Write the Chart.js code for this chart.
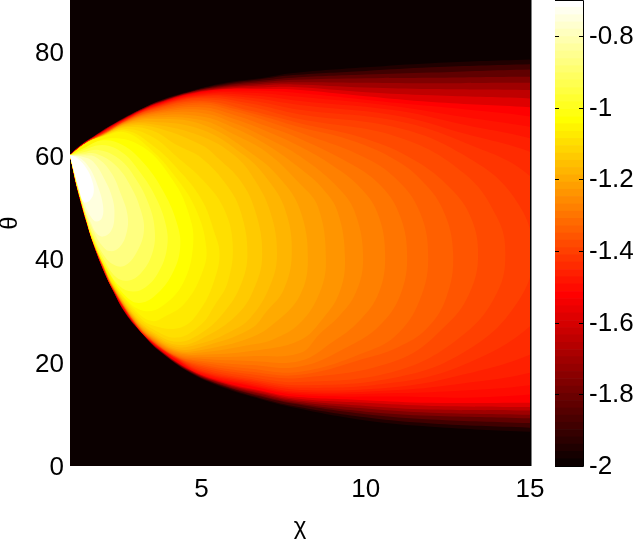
<!DOCTYPE html>
<html>
<head>
<meta charset="utf-8">
<style>
  html, body { margin: 0; padding: 0; background: #fff; }
  #wrap { position: relative; width: 635px; height: 539px; overflow: hidden; }
  #mapChart { position: absolute; left: 0; top: 0; }
  #barChart { position: absolute; left: 545px; top: 0; }
</style>
<script src="https://cdn.jsdelivr.net/npm/chart.js@4/dist/chart.umd.min.js"></script>
</head>
<body>
<div id="wrap">
  <canvas id="mapChart" width="635" height="539"></canvas>
  <canvas id="barChart" width="90" height="539"></canvas>
</div>
<script>
const chiTicks = [5, 10, 15];
const thetaTicks = [0, 20, 40, 60, 80];
const colorbarTicks = [-2, -1.8, -1.6, -1.4, -1.2, -1, -0.8];

// edges of the 64 colour steps on the colorbar
const colorbarEdges = [
  -2.000, -1.980, -1.959, -1.939, -1.919, -1.898, -1.878, -1.858, -1.838, -1.817, -1.797, -1.777, -1.756,
  -1.736, -1.716, -1.695, -1.675, -1.655, -1.634, -1.614, -1.594, -1.573, -1.553, -1.533, -1.513, -1.492,
  -1.472, -1.452, -1.431, -1.411, -1.391, -1.370, -1.350, -1.330, -1.309, -1.289, -1.269, -1.248, -1.228,
  -1.208, -1.188, -1.167, -1.147, -1.127, -1.106, -1.086, -1.066, -1.045, -1.025, -1.005, -0.984, -0.964,
  -0.944, -0.923, -0.903, -0.883, -0.863, -0.842, -0.822, -0.802, -0.781, -0.761, -0.741, -0.720, -0.700
];

// outer contours, theta read at these chi columns
const rimChi = [1, 1.2, 1.5, 1.7, 2, 2.3, 2.7, 3.2, 3.7, 4.7, 5.8, 6.8, 7.8, 10, 12, 15, 16];
const rimTop03 = [60, 61.3, 62.8, 63.6, 64.9, 66, 67.5, 69.1, 70.5, 72.5, 74.1, 74.9, 75.9, 77, 77.8, 78.5, 78.6];
const rimBot03 = [60, 54, 47.1, 43, 38, 34, 29.3, 25.5, 22.3, 17.8, 14.8, 12.9, 11.3, 8.8, 7.6, 6.6, 6.4];
const rimTop06 = [60, 61.3, 62.8, 63.6, 64.8, 66, 67.4, 69, 70.5, 72.4, 73.9, 74.7, 75.5, 76.3, 77, 77.6, 77.6];
const rimBot06 = [60, 54, 47.1, 43, 38, 34, 29.4, 25.5, 22.3, 17.9, 15, 13.1, 11.6, 9.4, 8.2, 7.4, 7.2];
const rimTop09 = [60, 61.3, 62.7, 63.5, 64.8, 65.9, 67.4, 69, 70.4, 72.3, 73.7, 74.4, 75, 75.6, 76, 76.6, 76.5];
const rimBot09 = [60, 54, 47.1, 43.1, 38.1, 34, 29.4, 25.6, 22.4, 18, 15.2, 13.4, 12, 10, 9, 8.3, 8.1];
const rimTop12 = [60, 61.3, 62.7, 63.5, 64.8, 65.9, 67.3, 69, 70.3, 72.3, 73.5, 74.1, 74.6, 74.9, 75, 75.2, 75.1];
const rimBot12 = [60, 54.1, 47.1, 43.1, 38.1, 34, 29.4, 25.6, 22.4, 18.1, 15.3, 13.6, 12.2, 10.5, 9.7, 9.2, 9];
const rimTop15 = [60, 61.2, 62.7, 63.5, 64.7, 65.9, 67.3, 68.9, 70.2, 72.2, 73.3, 73.8, 74.1, 74, 73.9, 74, 73.8];
const rimBot15 = [60, 54.1, 47.2, 43.1, 38.1, 34.1, 29.5, 25.7, 22.5, 18.2, 15.5, 13.9, 12.5, 11.1, 10.3, 9.9, 9.9];
const rimTop18 = [60, 61.2, 62.7, 63.5, 64.7, 65.8, 67.2, 68.8, 70.2, 72.1, 73.1, 73.5, 73.7, 73.1, 72.8, 72.6, 72.3];
const rimBot18 = [60, 54.1, 47.2, 43.1, 38.1, 34.1, 29.5, 25.7, 22.6, 18.3, 15.7, 14.1, 12.8, 11.6, 10.9, 10.7, 10.6];
const rimTop21 = [60, 61.2, 62.6, 63.4, 64.6, 65.8, 67.2, 68.8, 70.1, 72, 72.9, 73.1, 73.2, 72.2, 71.6, 71, 70.6];
const rimBot21 = [60, 54.1, 47.2, 43.2, 38.2, 34.1, 29.6, 25.8, 22.6, 18.4, 15.8, 14.4, 13.1, 12.2, 11.6, 11.4, 11.4];
const rimTop24 = [60, 61.2, 62.6, 63.4, 64.6, 65.7, 67.1, 68.7, 70, 71.9, 72.8, 72.8, 72.7, 71.4, 70.3, 69.3, 68.8];
const rimBot24 = [60, 54.1, 47.2, 43.2, 38.2, 34.2, 29.6, 25.8, 22.7, 18.5, 16, 14.6, 13.4, 12.7, 12.2, 12.2, 12.2];

// inner contours as [chi, theta], numbered by colour step
const contour25 = [[1,60],[1.5,62.5],[2,64.5],[2.7,67],[3.5,69.4],[5,72.1],[6.5,72.5],[8,72],[11,70.1],[13,68.9],[15,67.5],[16,66],[16,14.5],[15,13.8],[13,13.2],[11,13.4],[8,13.7],[6.5,15.4],[5,17.6],[4.25,20.4],[3.5,23.9],[3,27.2],[2.3,34.2],[2,38.2],[1.7,43.2],[1.5,47.2],[1.2,54.1]];
const contour26 = [[1,60],[1.5,62.5],[2,64.4],[2.7,67],[3.5,69.4],[5,71.9],[6.5,72.1],[8,71.3],[11,69.4],[13,67.4],[15,65.5],[16,64],[16,17],[15,15.6],[13,14.6],[11,14.1],[8,14],[6.5,15.6],[5,17.8],[4.25,20.5],[3.5,23.9],[3,27.2],[2.3,34.2],[2,38.3],[1.7,43.2],[1.5,47.2],[1.2,54.2]];
const contour27 = [[1,60],[1.5,62.5],[2,64.4],[2.7,66.9],[3.5,69.3],[5,71.7],[6.5,71.6],[8,70.5],[11,68.6],[13,65.9],[15,63.3],[16,61],[16,20.5],[15,18],[13,16],[11,14.7],[8,14.3],[6.5,15.9],[5,18],[4.25,20.6],[3.5,24],[3,27.2],[2.3,34.3],[2,38.3],[1.7,43.2],[1.5,47.2],[1.2,54.2]];
const contour28 = [[1,60],[1.5,62.5],[2,64.3],[2.7,66.9],[3.5,69.2],[5,71.5],[6.5,71.1],[8,69.7],[11,67.6],[13,64.2],[15,60.7],[16,57.5],[16,25.5],[15,21.5],[13,17.7],[11,15.3],[8,14.7],[6.5,16.2],[5,18.2],[4.25,20.7],[3.5,24],[3,27.3],[2.3,34.3],[2,38.4],[1.7,43.2],[1.5,47.3],[1.2,54.2]];
const contour29 = [[1,60],[1.5,62.5],[2,64.3],[2.7,66.8],[3.5,69.1],[5,71.3],[6.5,70.6],[8,68.8],[11,66.6],[13,62.5],[15,56],[16,46],[16.1,41],[16,36],[15,27],[13,19.6],[11,16.2],[8,15.1],[6.5,16.5],[5,18.4],[4.25,20.8],[3.5,24.1],[3,27.3],[2.3,34.3],[2,38.4],[1.7,43.3],[1.5,47.3],[1.2,54.3]];
const contour30 = [[1,60],[1.5,62.5],[2,64.2],[2.7,66.8],[3.5,69],[5,71.1],[6.5,70],[8,67.9],[11,65.3],[13,60],[14.5,52],[15.1,41],[14.5,30.5],[13,22],[11,17.2],[8,15.6],[6.5,16.8],[5,18.7],[4.25,20.9],[3.5,24.1],[3,27.4],[2.3,34.4],[2,38.5],[1.7,43.3],[1.5,47.4],[1.2,54.3]];
const contour31 = [[1,60],[1.5,62.5],[2,64.2],[2.7,66.7],[3.5,68.9],[5,70.8],[6.5,69.4],[8,67],[11,63.5],[13,56.5],[14,48],[14.25,41],[14,33.5],[13,25.5],[11,18.5],[8,16.2],[6.5,17.2],[5,19],[4.25,21],[3.5,24.2],[3,27.4],[2.3,34.4],[2,38.5],[1.7,43.3],[1.5,47.4],[1.2,54.3]];
const contour32 = [[1,60],[1.5,62.5],[2,64.1],[2.7,66.7],[3.5,68.8],[5,70.5],[6.5,68.6],[8,66.2],[10,63.2],[11.5,59],[12.6,53.5],[13.2,48],[13.42,41],[13.2,34],[12.5,27.5],[11,20.5],[8,17],[6.5,17.7],[5,19.3],[4.25,21],[3.5,24.2],[3,27.5],[2.3,34.4],[2,38.6],[1.7,43.3],[1.5,47.4],[1.2,54.3]];
const contour33 = [[1,60],[1.5,62.4],[2,64.1],[2.7,66.6],[3.5,68.6],[5,70.2],[6,69],[7,67.3],[8,65.4],[9.5,63],[10.8,59.5],[11.65,55.5],[12.35,49.5],[12.66,41],[12.45,32.5],[11.85,26.5],[11,23],[10,20.8],[8,17.6],[6.5,18.2],[5,19.6],[4.25,21.1],[3.5,24.3],[3,27.5],[2.3,34.5],[2,38.6],[1.7,43.3],[1.5,47.4],[1.2,54.3]];
const contour34 = [[1,60],[1.5,62.4],[2,64.1],[2.7,66.6],[3.5,68.4],[5,69.8],[6,68.5],[7,66.6],[8,64.4],[10,59.5],[11,55],[11.65,49],[11.9,41],[11.7,33],[11,25.7],[10,22],[8,18.2],[6.5,18.8],[5,20],[4.25,21.2],[3.5,24.3],[3,27.6],[2.3,34.5],[2,38.7],[1.7,43.3],[1.5,47.4],[1.2,54.3]];
const contour35 = [[1,60],[1.5,62.4],[2,64],[2.7,66.5],[3.5,68.3],[5,69.3],[6,67.8],[7,65.6],[8,63.2],[9.5,58.5],[10.4,54.5],[11,49],[11.26,41],[11.05,33],[10.4,27],[9.5,23.2],[8,19.2],[6.5,19.5],[5,20.3],[4.25,21.3],[3.5,24.4],[3,27.6],[2.3,34.5],[2,38.7],[1.7,43.3],[1.5,47.4],[1.2,54.3]];
const contour36 = [[1,60],[1.5,62.4],[2,64],[2.7,66.5],[3.5,68.1],[5,68.8],[6,67],[7,64.6],[8,61.7],[9,58],[9.8,54],[10.35,49],[10.59,41],[10.4,33.5],[9.8,28],[9,24],[8,20.3],[6.5,20.3],[5,20.7],[4.25,21.5],[3.5,24.5],[3,27.6],[2.3,34.6],[2,38.7],[1.7,43.4],[1.5,47.5],[1.2,54.3]];
const contour37 = [[1,60],[1.5,62.4],[2,64],[2.7,66.4],[3.5,67.9],[5,68.2],[6,66.2],[7,63.3],[8,59.8],[9.2,53.5],[9.7,48.5],[9.92,40],[9.7,33.5],[9.2,29],[8.6,25.5],[8,21.8],[6.5,21.2],[5,21.1],[4.25,21.7],[3.5,24.6],[3,27.7],[2.3,34.6],[2,38.8],[1.7,43.4],[1.5,47.5],[1.2,54.3]];
const contour38 = [[1,60],[1.5,62.4],[2,63.9],[2.7,66.3],[3.5,67.6],[5,67.5],[6,65.3],[7,62],[8,57.5],[8.7,53.5],[9.15,49],[9.37,40],[9.2,33.5],[8.7,28.5],[8,24.3],[6.5,22.2],[5,21.5],[4.25,21.9],[3.5,24.7],[3,27.8],[2.3,34.6],[2,38.8],[1.7,43.4],[1.5,47.5],[1.2,54.3]];
const contour39 = [[1,60],[1.5,62.4],[2,63.9],[2.7,66.2],[3.5,67.3],[5,66.8],[6,64],[7,60.5],[8,54.5],[8.55,50],[8.79,40],[8.6,33.5],[8,27.6],[7.2,24.5],[6.5,23.4],[5,21.9],[4.25,22.1],[3.5,24.8],[3,27.9],[2.3,34.7],[2,38.9],[1.7,43.4],[1.5,47.5],[1.2,54.3]];
const contour40 = [[1,60],[1.5,62.4],[2,63.9],[2.7,66.1],[3.5,67],[5,66],[6.5,60.5],[7.4,55.5],[8,49.5],[8.24,40],[8,33],[7.3,28],[6.5,24.8],[5,22.4],[4.25,22.3],[3.5,25],[3,28],[2.3,34.7],[2,38.9],[1.7,43.4],[1.5,47.5],[1.2,54.3]];
const contour41 = [[1,60],[1.5,62.4],[2,63.9],[2.7,66],[3.5,66.5],[5,65],[6.3,60],[7,55.5],[7.55,49.5],[7.75,41],[7.5,34],[7,30],[6.5,26.5],[5,23],[4.25,22.6],[3.5,25.2],[3,28.1],[2.3,34.8],[2,39],[1.7,43.4],[1.5,47.5],[1.2,54.3]];
const contour42 = [[1,60],[1.5,62.4],[2,63.8],[2.7,65.8],[3.5,66],[5,63.7],[6,60],[6.6,55.5],[7.1,49],[7.3,41],[7.1,35],[6.5,28.7],[5.8,25.7],[5,23.7],[4.25,23],[3.5,25.4],[3,28.3],[2.3,34.9],[2,39],[1.7,43.4],[1.5,47.5],[1.2,54.3]];
const contour43 = [[1,60],[1.5,62.4],[2,63.8],[2.7,65.6],[3.5,65.5],[5,62],[5.5,59.5],[6.2,55],[6.65,49],[6.85,41],[6.65,35],[6.1,29.3],[5,24.6],[4.25,23.4],[3.5,25.7],[3,28.5],[2.3,35],[2,39],[1.7,43.4],[1.5,47.5],[1.2,54.3]];
const contour44 = [[1,60],[1.5,62.4],[2,63.8],[2.7,65.4],[3.5,64.8],[4.25,62],[5,59.5],[5.8,54],[6.2,49],[6.4,41],[6.2,35],[5.7,29.8],[5,25.7],[4.25,24],[3.5,26],[3,28.7],[2.3,35],[2,39.1],[1.7,43.4],[1.5,47.5],[1.2,54.3]];
const contour45 = [[1,60],[1.5,62.4],[2,63.7],[2.7,65.1],[3.5,63.6],[4.26,59.7],[5.05,55.2],[5.66,50],[5.95,43],[5.8,35.5],[5.4,31],[5,27.4],[4.25,24.8],[3.5,26.5],[3,29],[2.3,35.1],[2,39.1],[1.7,43.4],[1.5,47.5],[1.2,54.3]];
const contour46 = [[1,60],[1.5,62.4],[2,63.7],[2.7,64.8],[3.5,62],[4.26,57.5],[5,51.5],[5.4,45],[5.55,41],[5.4,36],[5,30.5],[4.4,26.8],[3.5,27.2],[3,29.5],[2.3,35.2],[2,39.1],[1.7,43.5],[1.5,47.5],[1.2,54.3]];
const contour47 = [[1,60],[1.5,62.4],[2,63.6],[2.7,64.4],[3.5,60.9],[4.13,56.5],[4.8,50],[5.15,42],[5,37],[4.5,31.5],[3.9,28.9],[3.5,28],[3,30],[2.3,35.4],[2,39.2],[1.7,43.5],[1.5,47.5],[1.2,54.3]];
const contour48 = [[1,60],[1.3,61],[2.2,63.3],[3.22,61.6],[4.13,55.2],[4.6,49],[4.75,43],[4.44,35.3],[3.74,30.6],[3.22,30],[2.73,32],[2.2,36.8],[1.7,43.6],[1.5,47.6],[1.2,54.4]];
const contour50 = [[1,60],[1.4,61.3],[2,62.9],[2.6,62],[3.2,58.8],[3.8,53.5],[4.25,47],[4.35,42],[4.1,37],[3.6,33],[3.1,31.5],[2.7,32.8],[2.2,37.2],[1.7,43.8],[1.5,47.7],[1.2,54.5]];
const contour52 = [[1,60],[1.4,61],[2,62],[2.6,60.5],[3.1,57],[3.6,52],[3.92,46.5],[3.95,42],[3.7,37.5],[3.3,34.5],[2.9,33.7],[2.5,34.8],[2.1,38.5],[1.7,44],[1.5,47.8],[1.2,54.6]];
const contour54 = [[1,60],[1.4,60.6],[1.9,61],[2.5,59.3],[3,55.5],[3.4,50.5],[3.58,45.5],[3.5,41],[3.15,37.2],[2.75,35.8],[2.4,36.5],[2.05,39.7],[1.7,44.3],[1.5,48],[1.2,54.7]];
const contour56 = [[1,60],[1.4,60.3],[1.8,60.3],[2.4,58],[2.85,54],[3.15,49.5],[3.25,45.5],[3.05,41.5],[2.7,38.8],[2.35,38.8],[2,41],[1.7,44.8],[1.5,48.2],[1.2,54.8]];
const contour58 = [[1,60],[1.4,60],[1.8,59.6],[2.25,56.7],[2.55,52.5],[2.75,48.5],[2.72,45],[2.5,42.2],[2.2,41.5],[1.95,42.8],[1.7,45.6],[1.5,48.6],[1.2,55]];
const contour60 = [[1,60],[1.4,59.7],[1.7,58.8],[2.05,55.4],[2.3,51.5],[2.35,48],[2.25,45.4],[2,44.3],[1.8,45],[1.65,46.8],[1.45,49.7],[1.2,55.2]];
const contour62 = [[1,60],[1.3,59.5],[1.6,57.5],[1.85,54],[2,50.5],[1.98,48],[1.8,47.2],[1.65,48],[1.48,50],[1.2,55.5]];
const contour64 = [[1,60],[1.25,59.3],[1.5,57.5],[1.68,55],[1.72,52.8],[1.6,51.3],[1.42,51],[1.25,54],[1.1,57.5]];

// MATLAB hot map, step 1..64
function hotColor(step) {
  const r = Math.min(1, step / 24);
  const g = Math.max(0, Math.min(1, (step - 24) / 24));
  const b = Math.max(0, Math.min(1, (step - 48) / 16));
  return `rgb(${Math.round(r * 255)},${Math.round(g * 255)},${Math.round(b * 255)})`;
}

function rimContour(top, bottom) {
  const upper = rimChi.map((chi, i) => [chi, top[i]]);
  const lower = rimChi.map((chi, i) => [chi, bottom[i]]).reverse();
  return upper.concat(lower);
}

const contours = [
  [3, rimContour(rimTop03, rimBot03)], [6, rimContour(rimTop06, rimBot06)],
  [9, rimContour(rimTop09, rimBot09)], [12, rimContour(rimTop12, rimBot12)],
  [15, rimContour(rimTop15, rimBot15)], [18, rimContour(rimTop18, rimBot18)],
  [21, rimContour(rimTop21, rimBot21)], [24, rimContour(rimTop24, rimBot24)],
  [25, contour25], [26, contour26], [27, contour27], [28, contour28], [29, contour29], [30, contour30],
  [31, contour31], [32, contour32], [33, contour33], [34, contour34], [35, contour35], [36, contour36],
  [37, contour37], [38, contour38], [39, contour39], [40, contour40], [41, contour41], [42, contour42],
  [43, contour43], [44, contour44], [45, contour45], [46, contour46], [47, contour47], [48, contour48],
  [50, contour50], [52, contour52], [54, contour54], [56, contour56], [58, contour58], [60, contour60],
  [62, contour62], [64, contour64]
];

const labelFont = { family: '"Liberation Sans", Arial, sans-serif', size: 26 };

// black floor of the map, right hand axis line and the theta label
const mapFrame = {
  id: 'mapFrame',
  beforeDatasetsDraw(chart) {
    const { ctx, chartArea: a } = chart;
    ctx.save();
    ctx.fillStyle = hotColor(1);
    ctx.fillRect(a.left, a.top, a.width, a.height);
    ctx.restore();
  },
  afterDatasetsDraw(chart) {
    const { ctx, chartArea: a } = chart;
    ctx.save();
    ctx.fillStyle = '#000';
    ctx.fillRect(a.right, a.top, 1.5, a.height);
    ctx.translate(10, 223);
    ctx.rotate(-Math.PI / 2);
    ctx.font = '24px "Liberation Sans", Arial, sans-serif';
    ctx.textAlign = 'center';
    ctx.textBaseline = 'middle';
    ctx.fillText('θ', 0, 0);
    ctx.restore();
  }
};

// small inside ticks and the outline of the colorbar
const barFrame = {
  id: 'barFrame',
  afterDatasetsDraw(chart) {
    const { ctx, chartArea: a, scales } = chart;
    ctx.save();
    ctx.strokeStyle = '#000';
    ctx.lineWidth = 1;
    ctx.beginPath();
    ctx.moveTo(a.left, a.top + 0.5);
    ctx.lineTo(a.right + 0.5, a.top + 0.5);
    ctx.lineTo(a.right + 0.5, a.bottom + 0.5);
    ctx.lineTo(a.left, a.bottom + 0.5);
    colorbarTicks.forEach(v => {
      const y = Math.round(scales.y.getPixelForValue(v)) + 0.5;
      ctx.moveTo(a.left, y);
      ctx.lineTo(a.left + 4, y);
      ctx.moveTo(a.right, y);
      ctx.lineTo(a.right - 4, y);
    });
    ctx.stroke();
    ctx.restore();
  }
};

new Chart(document.getElementById('mapChart'), {
  type: 'scatter',
  data: {
    datasets: contours.map(([step, points]) => ({
      label: String(step),
      data: points,
      order: 100 - step,
      showLine: true,
      fill: 'shape',
      backgroundColor: hotColor(step),
      borderColor: hotColor(step),
      borderWidth: 0,
      pointRadius: 0,
      tension: 0.4
    }))
  },
  options: {
    responsive: false,
    animation: false,
    layout: { padding: { right: 105 } },
    plugins: { legend: { display: false }, tooltip: { enabled: false } },
    scales: {
      x: {
        type: 'linear',
        min: 1,
        max: 15,
        afterBuildTicks: s => { s.ticks = chiTicks.map(value => ({ value })); },
        afterFit: s => { s.height = 73; s.paddingLeft = 0; s.paddingRight = 0; },
        grid: { display: false, drawTicks: false },
        border: { display: false },
        ticks: { color: '#000', font: labelFont, padding: 8, maxRotation: 0, autoSkip: false },
        title: { display: true, text: 'χ', color: '#000', padding: 0, font: { ...labelFont, size: 24, lineHeight: 1 } }
      },
      y: {
        min: 0,
        max: 90,
        afterBuildTicks: s => { s.ticks = thetaTicks.map(value => ({ value })); },
        afterFit: s => { s.width = 70; s.paddingTop = 0; s.paddingBottom = 0; },
        grid: { display: false, drawTicks: false },
        border: { display: false },
        ticks: { color: '#000', font: labelFont, padding: 6, autoSkip: false, labelOffset: 2 }
      }
    }
  },
  plugins: [mapFrame]
});

new Chart(document.getElementById('barChart'), {
  type: 'bar',
  data: {
    labels: ['colorbar'],
    datasets: colorbarEdges.slice(1).map((edge, i) => ({
      data: [[colorbarEdges[i], edge]],
      backgroundColor: hotColor(i + 1),
      borderWidth: 0,
      barPercentage: 1,
      categoryPercentage: 1,
      grouped: false
    }))
  },
  options: {
    responsive: false,
    animation: false,
    layout: { padding: { left: 10, bottom: 73 } },
    plugins: { legend: { display: false }, tooltip: { enabled: false } },
    scales: {
      x: { display: false },
      y: {
        position: 'right',
        min: -2,
        max: -0.7,
        afterBuildTicks: s => { s.ticks = colorbarTicks.map(value => ({ value })); },
        afterFit: s => { s.width = 52; s.paddingTop = 0; s.paddingBottom = 0; },
        grid: { display: false, drawTicks: false },
        border: { display: false },
        ticks: { color: '#000', font: labelFont, padding: 6, autoSkip: false, labelOffset: 1, callback: v => String(v) }
      }
    }
  },
  plugins: [barFrame]
});
</script>
</body>
</html>
